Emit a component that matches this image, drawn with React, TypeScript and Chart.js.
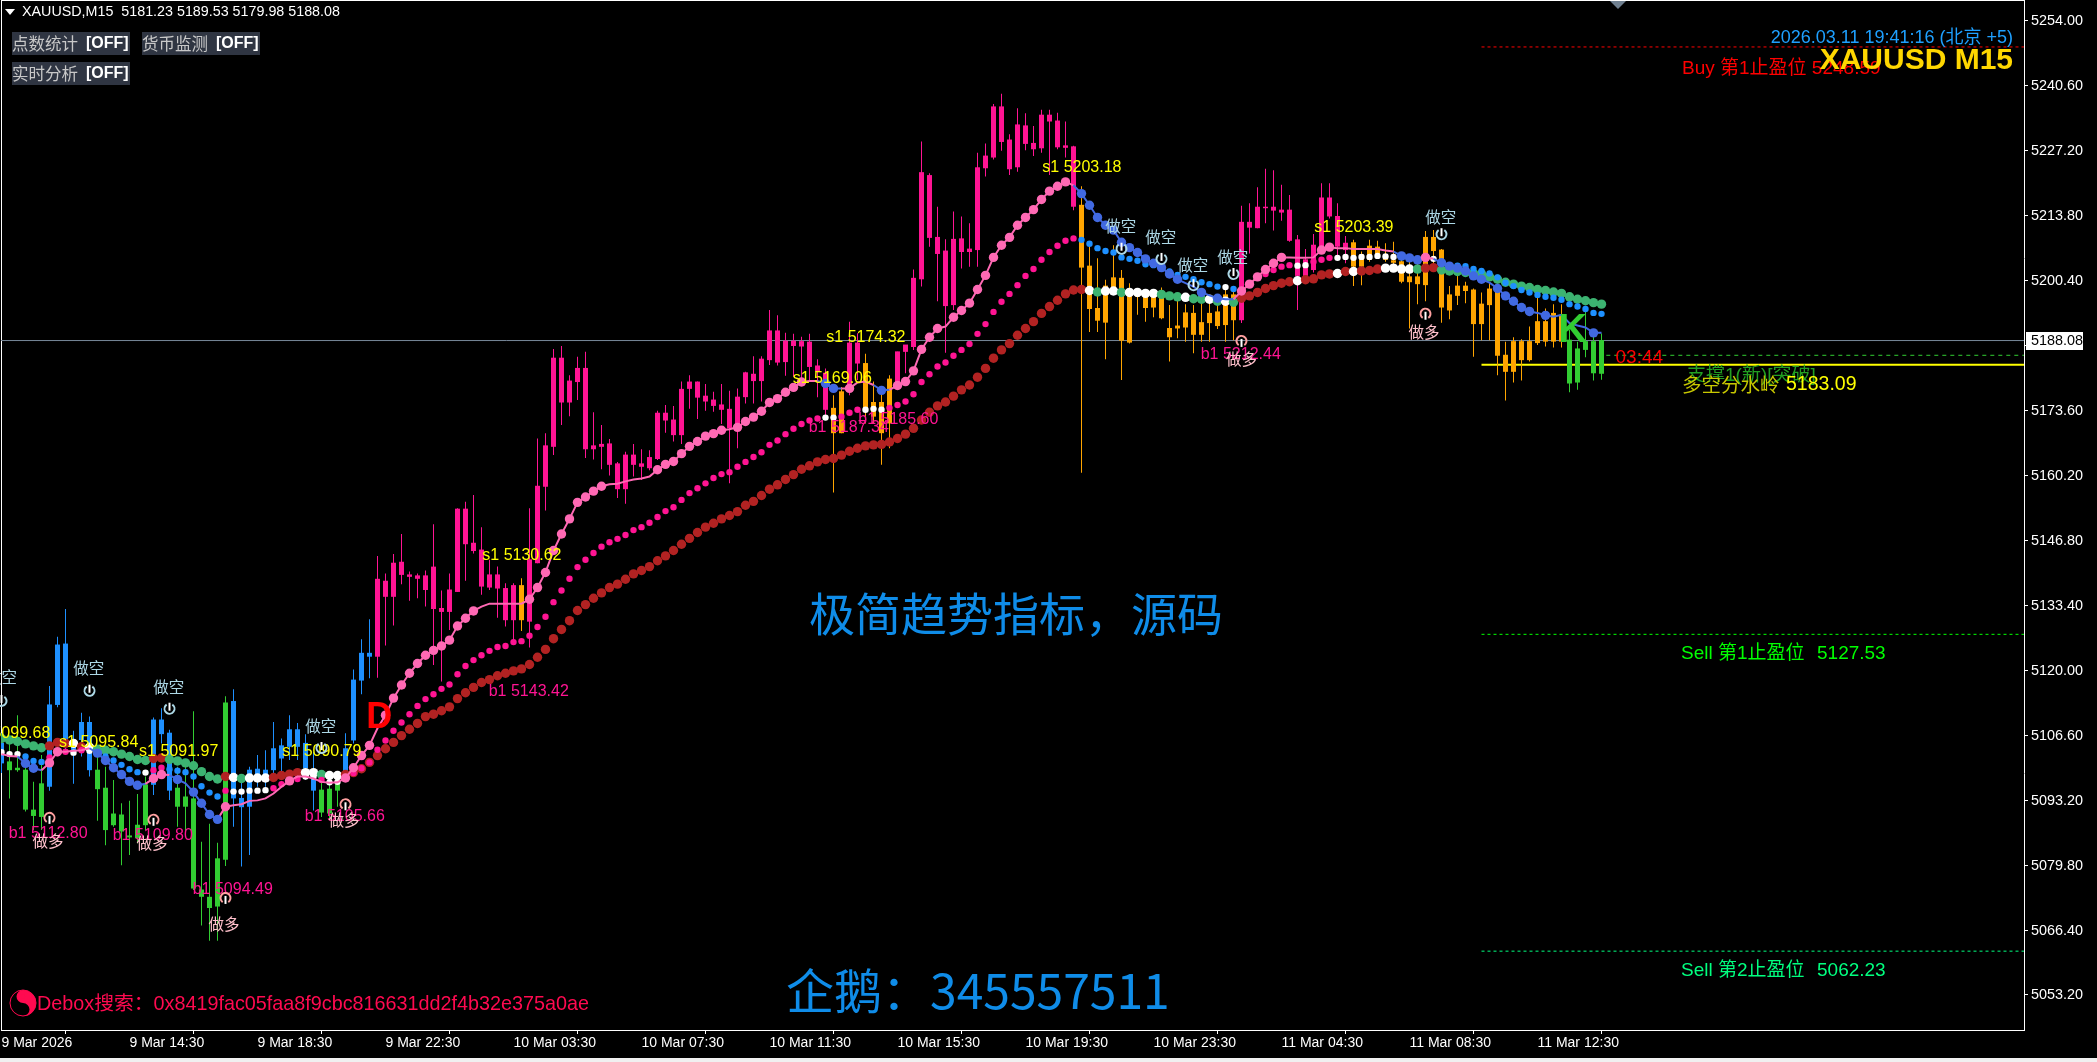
import React, { useEffect, useRef } from "react";
import { Chart, registerables } from "chart.js";

Chart.register(...registerables);

// ---- candles (prices, one row per ten bars)
const bodyHighRead = [
5105.6,5101.8,5100.5,5100.1,5091.9,5097.3,5113.5,5125.8,5126.0,5106.3,
5109.9,5109.9,5100.1,5096.4,5091.1,5090.9,5086.6,5088.8,5097.1,5110.4,
5110.4,5107.7,5096.4,5094.6,5094.2,5075.5,5074.0,5081.9,5113.9,5114.2,
5094.3,5100.1,5100.3,5100.1,5104.5,5105.1,5108.4,5108.4,5105.6,5099.5,
5096.0,5096.2,5098.1,5104.5,5118.6,5124.1,5124.1,5139.3,5138.9,5142.6,
5142.8,5140.2,5140.0,5140.0,5141.8,5133.3,5137.1,5153.7,5153.7,5146.7,
5145.3,5140.2,5140.2,5137.4,5138.0,5138.0,5143.3,5158.4,5166.7,5184.7,
5184.7,5180.0,5182.6,5182.6,5166.7,5167.0,5167.1,5163.0,5164.8,5164.8,
5163.0,5164.3,5173.4,5173.4,5172.0,5178.3,5179.8,5179.8,5176.9,5176.1,
5175.1,5174.2,5176.7,5181.7,5181.4,5184.5,5190.3,5190.3,5188.2,5188.2,
5188.1,5188.0,5183.1,5181.6,5174.4,5177.8,5187.8,5187.8,5183.6,5175.6,
5175.6,5180.4,5186.0,5187.4,5201.1,5222.8,5222.2,5209.5,5206.7,5209.1,
5209.2,5207.1,5223.8,5226.2,5236.3,5236.3,5229.5,5232.6,5232.4,5228.8,
5234.6,5234.6,5233.4,5228.3,5228.1,5216.1,5203.6,5194.9,5199.5,5201.2,
5201.1,5198.2,5198.0,5198.0,5197.3,5198.3,5190.8,5191.3,5194.0,5193.9,
5192.0,5193.9,5194.2,5197.7,5197.7,5212.6,5212.6,5215.7,5215.7,5215.7,
5215.1,5215.1,5209.0,5204.9,5207.9,5217.6,5217.6,5213.8,5208.3,5208.4,
5205.9,5207.7,5207.5,5205.9,5204.7,5204.5,5201.4,5201.4,5209.5,5209.5,
5206.9,5197.7,5199.5,5199.5,5198.7,5195.8,5198.9,5198.7,5185.3,5188.1,
5188.1,5188.1,5192.2,5192.2,5193.9,5193.5,5188.4,5186.6,5188.1,5188.1,
5188.32];
const bodyLowRead = [
5101.5,5100.1,5100.1,5092.0,5090.7,5090.5,5096.7,5113.5,5106.3,5103.6,
5106.3,5100.1,5096.2,5087.8,5088.8,5087.5,5086.3,5086.1,5088.8,5097.1,
5107.5,5095.9,5092.6,5092.6,5075.8,5074.1,5071.8,5072.1,5081.7,5094.3,
5092.5,5092.6,5098.1,5098.1,5100.1,5102.5,5104.9,5104.9,5100.5,5095.9,
5091.4,5091.2,5095.9,5099.8,5106.2,5118.5,5123.4,5123.4,5135.7,5135.7,
5140.2,5139.8,5139.4,5137.1,5133.2,5132.6,5132.6,5136.7,5146.5,5145.1,
5137.8,5137.6,5137.4,5130.9,5130.9,5130.9,5130.6,5142.6,5158.3,5166.5,
5175.6,5175.6,5179.8,5166.0,5166.0,5166.5,5162.8,5157.8,5157.8,5162.8,
5162.4,5162.1,5164.0,5171.9,5168.9,5168.9,5178.4,5176.6,5175.8,5174.9,
5174.1,5170.3,5170.0,5176.7,5180.0,5180.0,5184.3,5183.8,5183.9,5187.2,
5187.1,5182.9,5181.9,5174.1,5169.3,5169.3,5177.8,5183.6,5174.4,5172.7,
5169.3,5171.3,5179.8,5186.0,5187.0,5200.9,5209.4,5206.1,5195.4,5195.6,
5206.5,5206.5,5206.9,5223.7,5225.9,5229.1,5223.5,5223.9,5228.7,5227.6,
5227.8,5233.3,5228.0,5227.9,5215.8,5203.3,5194.8,5192.4,5192.0,5198.3,
5188.3,5187.9,5197.3,5195.0,5195.1,5192.9,5189.0,5190.8,5191.0,5189.5,
5189.5,5191.9,5191.3,5191.5,5192.5,5192.5,5211.5,5211.4,5215.5,5215.0,
5214.6,5208.8,5201.6,5201.6,5202.8,5207.6,5213.8,5207.6,5206.9,5203.5,
5203.5,5204.9,5205.6,5204.9,5204.3,5200.4,5200.3,5199.9,5199.7,5206.7,
5195.1,5194.5,5197.5,5198.5,5191.7,5191.7,5195.6,5185.2,5181.9,5181.9,
5184.3,5184.3,5187.8,5188.1,5188.1,5188.1,5179.5,5179.7,5186.4,5181.6,
5181.50];
const highsRead = [
5107.7,5105.6,5111.4,5102.9,5097.7,5103.2,5117.4,5127.5,5133.2,5108.2,
5111.9,5111.1,5103.9,5100.8,5098.1,5093.3,5093.8,5095.2,5098.8,5110.9,
5112.8,5108.4,5100.8,5101.2,5112.2,5085.4,5089.1,5085.2,5115.3,5116.7,
5098.4,5100.8,5103.2,5104.2,5110.0,5106.6,5111.4,5109.8,5107.5,5103.9,
5098.1,5098.1,5099.5,5107.7,5120.8,5127.0,5131.1,5144.1,5140.5,5144.5,
5148.6,5140.9,5140.5,5141.1,5150.6,5137.0,5140.5,5153.9,5155.2,5156.6,
5150.0,5143.3,5141.9,5138.5,5138.5,5139.5,5153.9,5168.2,5169.3,5186.6,
5187.2,5181.2,5185.0,5186.0,5173.6,5171.0,5168.1,5163.4,5165.5,5167.1,
5166.0,5165.8,5173.9,5175.1,5174.9,5179.9,5181.2,5179.9,5179.4,5177.8,
5179.4,5178.0,5178.5,5181.9,5185.1,5185.1,5194.6,5193.5,5189.9,5189.7,
5189.1,5189.7,5184.5,5182.6,5177.1,5178.8,5192.2,5189.8,5185.6,5179.9,
5177.5,5181.2,5186.0,5187.4,5202.9,5229.2,5222.7,5215.8,5209.1,5214.8,
5213.8,5212.4,5226.9,5228.8,5236.9,5239.0,5230.7,5236.0,5235.0,5232.4,
5235.7,5235.7,5235.1,5233.3,5228.3,5220.0,5207.9,5205.2,5200.8,5207.9,
5202.8,5200.1,5199.0,5198.0,5198.0,5199.2,5195.6,5196.6,5195.8,5195.6,
5196.3,5197.3,5197.3,5199.0,5199.0,5216.0,5216.5,5219.8,5223.6,5223.3,
5220.3,5218.2,5210.0,5207.1,5210.2,5220.6,5220.6,5216.5,5209.8,5209.0,
5206.6,5209.0,5208.8,5208.3,5208.6,5205.6,5204.9,5204.2,5210.8,5211.0,
5207.1,5199.5,5201.8,5200.4,5199.0,5198.2,5200.3,5199.0,5188.1,5189.0,
5188.6,5191.2,5197.3,5194.9,5195.8,5195.8,5190.5,5188.1,5194.3,5189.1,
5189.77];
const lowsRead = [
5099.5,5094.3,5099.8,5091.6,5087.8,5087.8,5095.9,5113.0,5104.2,5097.3,
5102.9,5098.8,5089.7,5084.7,5088.5,5080.6,5082.7,5085.1,5087.8,5095.0,
5105.6,5094.0,5088.5,5086.5,5075.5,5068.2,5065.1,5065.1,5080.4,5088.5,
5080.3,5082.7,5096.7,5096.7,5099.5,5098.8,5102.2,5102.2,5098.1,5091.8,
5090.5,5089.9,5092.6,5098.1,5105.6,5115.7,5119.0,5119.1,5125.7,5129.8,
5138.3,5134.9,5135.4,5133.7,5121.7,5118.3,5128.9,5136.7,5139.0,5144.6,
5136.1,5137.1,5131.4,5129.6,5125.8,5128.7,5125.3,5142.6,5153.4,5164.8,
5171.0,5172.8,5176.1,5164.2,5163.9,5161.9,5160.6,5156.0,5154.8,5160.4,
5159.7,5161.7,5163.8,5169.4,5167.6,5167.1,5174.3,5172.2,5173.9,5173.7,
5171.2,5159.0,5166.2,5175.4,5175.4,5175.8,5183.3,5183.2,5181.1,5180.9,
5180.6,5179.9,5176.7,5172.3,5157.1,5169.3,5177.1,5180.2,5171.3,5171.3,
5162.8,5166.2,5178.8,5181.6,5186.4,5199.4,5207.6,5196.4,5185.8,5194.6,
5203.1,5203.5,5203.5,5222.0,5225.5,5227.3,5222.3,5223.0,5227.4,5226.2,
5226.9,5222.3,5227.6,5225.9,5215.1,5161.2,5190.1,5190.1,5184.5,5198.0,
5180.2,5187.7,5193.6,5192.2,5193.1,5192.7,5184.0,5188.8,5188.1,5185.7,
5188.1,5188.1,5190.7,5188.1,5188.4,5191.9,5206.2,5211.4,5212.4,5210.9,
5212.9,5208.6,5194.6,5201.4,5202.3,5207.5,5213.4,5204.9,5204.2,5199.5,
5199.7,5204.5,5205.2,5204.5,5203.5,5200.1,5190.8,5195.8,5196.4,5204.2,
5192.0,5192.7,5195.6,5196.0,5185.0,5188.4,5188.4,5181.2,5176.0,5179.7,
5180.1,5184.0,5187.4,5187.1,5186.9,5186.9,5177.7,5178.2,5184.9,5180.1,
5180.25];

// ---- three trend indicators
const slowRead = [
5106.6,5106.3,5106.0,5105.5,5105.1,5104.7,5105.1,5105.8,5105.6,5105.6,
5104.9,5104.8,5104.4,5104.2,5103.9,5103.4,5102.9,5102.3,5102.1,5102.5,
5102.6,5102.3,5102.0,5101.6,5101.0,5099.8,5098.8,5098.3,5098.8,5098.6,
5098.4,5098.5,5098.5,5098.5,5098.6,5099.0,5099.3,5099.6,5099.6,5099.6,
5099.2,5099.0,5099.0,5099.2,5099.6,5100.4,5101.7,5103.1,5104.5,5105.8,
5107.2,5108.5,5109.7,5111.1,5111.6,5112.3,5113.1,5114.8,5116.0,5117.1,
5118.1,5118.7,5119.5,5120.0,5120.5,5120.9,5121.8,5123.3,5124.9,5127.1,
5129.0,5130.8,5132.9,5134.1,5135.4,5136.5,5137.6,5138.3,5139.3,5140.4,
5141.1,5141.9,5143.1,5144.1,5145.2,5146.5,5147.7,5148.9,5150.0,5150.8,
5151.7,5152.4,5153.2,5154.5,5155.3,5156.5,5157.8,5158.7,5159.8,5160.8,
5161.9,5162.6,5163.4,5163.9,5164.1,5164.8,5165.6,5166.2,5166.7,5166.9,
5167.0,5167.5,5168.2,5169.1,5170.3,5172.0,5173.6,5174.9,5175.7,5176.9,
5178.2,5179.2,5180.8,5182.6,5184.7,5186.4,5187.7,5189.4,5190.8,5192.2,
5193.9,5195.3,5196.6,5197.9,5198.7,5198.8,5198.6,5198.3,5198.5,5198.5,
5198.2,5198.2,5198.2,5198.0,5198.0,5197.8,5197.5,5197.3,5197.2,5196.9,
5196.8,5196.8,5196.4,5196.4,5196.2,5197.0,5197.5,5198.2,5199.0,5199.6,
5200.1,5200.4,5200.6,5200.8,5201.0,5201.8,5202.0,5202.1,5202.5,5202.5,
5202.6,5202.7,5203.0,5203.2,5203.2,5203.0,5203.0,5203.0,5203.2,5203.3,
5202.8,5202.6,5202.5,5202.3,5202.1,5202.0,5201.4,5200.9,5200.3,5199.9,
5199.5,5199.2,5198.8,5198.6,5198.3,5198.0,5197.3,5196.8,5196.5,5196.1,
5195.8];
const mediumRead = [
5103.8,5103.4,5103.4,5102.9,5102.0,5101.8,5102.7,5103.6,5103.9,5103.7,
5104.2,5104.1,5103.6,5102.9,5102.1,5101.2,5100.3,5099.7,5099.6,5100.1,
5100.6,5100.3,5100.0,5099.7,5098.8,5096.8,5095.5,5094.7,5095.9,5095.7,
5095.7,5095.9,5095.9,5096.0,5096.4,5097.2,5097.7,5098.3,5098.8,5098.8,
5098.1,5097.6,5097.7,5098.4,5099.5,5100.5,5101.7,5104.3,5106.2,5108.2,
5109.9,5111.6,5113.3,5114.7,5115.7,5116.8,5117.7,5119.8,5121.5,5122.7,
5123.7,5124.6,5125.4,5125.6,5126.4,5126.6,5127.7,5129.5,5131.6,5134.6,
5137.0,5139.4,5141.8,5143.3,5144.7,5146.0,5146.9,5147.6,5148.4,5149.4,
5150.0,5150.9,5152.1,5153.3,5154.1,5155.6,5157.0,5158.0,5159.0,5160.1,
5160.9,5161.3,5162.4,5163.4,5164.4,5165.4,5166.9,5167.8,5169.1,5170.2,
5171.2,5171.9,5172.3,5172.5,5172.5,5172.7,5173.5,5174.1,5174.1,5174.3,
5174.1,5174.5,5175.1,5175.8,5177.3,5179.8,5181.4,5183.0,5183.8,5185.2,
5186.4,5187.6,5189.7,5191.7,5194.2,5196.3,5197.9,5199.7,5201.6,5203.0,
5204.9,5206.5,5207.8,5208.8,5209.3,5209.0,5208.2,5207.3,5206.7,5206.4,
5205.4,5205.1,5204.7,5204.0,5203.8,5203.1,5202.5,5201.8,5201.4,5200.9,
5200.3,5199.9,5199.4,5199.3,5198.9,5198.5,5200.0,5201.2,5202.0,5202.8,
5203.5,5203.8,5203.7,5203.8,5204.5,5204.9,5205.3,5205.3,5205.5,5205.3,
5205.5,5205.5,5205.7,5205.6,5205.5,5205.4,5205.2,5205.0,5205.1,5205.1,
5204.2,5203.8,5203.7,5203.6,5203.0,5202.6,5202.1,5201.3,5200.2,5199.5,
5198.7,5198.2,5197.7,5197.3,5197.1,5196.7,5195.8,5195.3,5194.8,5194.0,
5193.8];
const fastRead = [
5103.4,5103.0,5102.9,5101.5,5100.5,5100.1,5101.6,5103.9,5103.9,5104.1,
5104.2,5104.6,5103.6,5102.1,5100.6,5099.2,5097.8,5097.0,5097.3,5098.4,
5099.2,5099.1,5098.2,5097.4,5095.6,5093.3,5091.0,5090.0,5092.6,5092.9,
5093.1,5093.8,5093.9,5094.3,5095.3,5096.7,5097.9,5098.8,5098.8,5098.4,
5097.7,5097.5,5097.6,5098.5,5100.6,5103.1,5105.2,5108.7,5111.4,5114.9,
5117.6,5120.0,5122.0,5123.7,5124.7,5125.6,5126.8,5129.7,5131.3,5132.8,
5133.7,5134.3,5134.3,5134.3,5134.3,5134.3,5135.2,5137.6,5140.7,5145.2,
5148.6,5151.7,5155.1,5156.2,5157.4,5158.4,5158.8,5158.9,5159.4,5159.8,
5160.0,5160.4,5161.8,5162.9,5163.5,5165.1,5166.6,5167.6,5168.7,5169.2,
5169.9,5170.1,5170.5,5171.7,5172.6,5173.8,5175.6,5176.4,5177.7,5178.7,
5179.8,5180.0,5180.0,5179.5,5178.5,5178.5,5178.5,5179.7,5179.9,5179.2,
5178.1,5178.2,5179.1,5179.9,5182.1,5186.5,5189.0,5190.8,5191.2,5193.1,
5194.5,5196.0,5198.8,5201.7,5205.4,5207.9,5209.5,5212.0,5213.6,5215.2,
5217.3,5219.0,5220.0,5220.9,5220.2,5218.5,5216.1,5213.6,5212.0,5211.0,
5208.5,5207.4,5206.4,5205.1,5204.2,5203.3,5202.0,5200.9,5200.1,5199.4,
5198.2,5197.6,5197.0,5196.8,5196.8,5198.5,5199.9,5201.4,5202.9,5204.2,
5205.4,5205.4,5205.3,5205.3,5205.4,5206.9,5207.5,5207.3,5207.3,5207.1,
5207.1,5207.1,5207.1,5206.8,5206.6,5205.7,5205.3,5204.9,5205.4,5205.1,
5204.3,5203.6,5203.2,5202.6,5201.6,5200.9,5200.2,5199.0,5197.5,5196.4,
5195.1,5194.3,5194.0,5193.5,5193.2,5193.6,5191.9,5191.4,5191.0,5189.9,
5189.9];

// ---- states along the bars, as runs of [state, bars]
const candleStates: [string, number][] = [["B",1],["G",5],["B",6],["G",7],["B",3],["G",7],["B",11],["G",3],["B",4],["P",18],["O",1],["P",38],["O",2],["P",2],["O",4],["P",23],["O",20],["P",14],["O",27],["G",5]];
const slowStates: [string, number][] = [["G",6],["R",3],["W",1],["R",1],["W",1],["G",7],["R",2],["G",7],["R",1],["W",1],["G",1],["W",3],["R",4],["W",2],["G",1],["W",2],["R",93],["W",1],["G",1],["W",2],["G",1],["W",4],["G",3],["W",1],["G",2],["W",1],["G",1],["W",1],["G",1],["R",7],["W",1],["R",4],["W",1],["R",1],["W",1],["R",3],["W",4],["G",1],["R",2],["G",21]];
const mediumStates: [string, number][] = [["W",3],["B",3],["P",3],["W",1],["P",1],["W",1],["B",6],["W",1],["P",2],["B",7],["P",1],["W",5],["P",4],["W",2],["P",1],["W",2],["P",60],["W",2],["P",3],["W",3],["P",24],["B",18],["W",1],["B",1],["P",7],["W",2],["P",3],["W",8],["B",3],["P",1],["W",1],["B",21]];
const fastStates: [string, number][] = [["P",3],["B",3],["P",6],["B",7],["P",3],["B",6],["P",75],["B",3],["P",4],["B",2],["P",23],["B",20],["P",20],["B",3],["P",2],["B",21]];
const fastMarked: [number, number][] = [[0,3],[1,2],[0,1],[1,2],[0,4],[1,6],[0,1],[1,2],[0,1],[1,1],[0,1],[1,5],[0,7],[1,1],[0,6],[1,4],[0,1],[1,12],[0,6],[1,10],[0,6],[1,9],[0,1],[1,9],[0,2],[1,2],[0,1],[1,1],[0,3],[1,1],[0,1],[1,6],[0,1],[1,15],[0,1],[1,13],[0,2],[1,1],[0,1],[1,1],[0,2],[1,6],[0,4],[1,2],[0,8],[1,4],[0,1],[1,6],[0,1],[1,5],[0,1],[1,1],[0,5],[1,1],[0,1]];

// ---- axes
const priceTicks = [5254.0,5240.6,5227.2,5213.8,5200.4,5187.0,5173.6,5160.2,5146.8,5133.4,5120.0,5106.6,5093.2,5079.8,5066.4,5053.2];
const timeTickBars = [0,16,32,48,64,80,96,112,128,144,160,176,192];
const timeTickLabels = ["9 Mar 2026","9 Mar 14:30","9 Mar 18:30","9 Mar 22:30","10 Mar 03:30","10 Mar 07:30","10 Mar 11:30","10 Mar 15:30","10 Mar 19:30","10 Mar 23:30","11 Mar 04:30","11 Mar 08:30","11 Mar 12:30"];

// ---- levels
const lastPrice = 5188.08;
const buyTarget1 = 5248.59;
const sellTarget1 = 5127.53;
const sellTarget2 = 5062.23;
const watershed = 5183.09;
const support1 = 5185.04;

// ---- signals: [bar, price, text]
const shortEntryLabels: [number, number, string][] = [[-3.8,5106.99,"s1 5099.68"],[7.2,5105.13,"s1 5095.84"],[17.2,5103.28,"s1 5091.97"],[35.1,5103.28,"s1 5090.79"],[60.1,5143.67,"s1 5130.62"],[103.1,5188.6,"s1 5174.32"],[98.9,5180.15,"s1 5169.06"],[130.1,5223.64,"s1 5203.18"],[164.1,5211.27,"s1 5203.39"]];
const longEntryLabels: [number, number, string][] = [[0.9,5086.38,"b1 5112.80"],[13.9,5085.97,"b1 5109.80"],[23.9,5074.84,"b1 5094.49"],[37.9,5089.9,"b1 5105.66"],[60.9,5115.64,"b1 5143.42"],[100.9,5170.05,"b1 5187.34"],[107.1,5171.7,"b1 5185.60"],[149.9,5185.1,"b1 5212.44"]];
const shortWords: [number, number][] = [[0,5118.75],[10.9,5120.6],[20.9,5116.7],[39.9,5108.6],[139.9,5211.7],[144.9,5209.4],[148.9,5203.7],[153.9,5205.3],[179.9,5213.5]];
const longWords: [number, number][] = [[5.8,5084.9],[18.8,5084.5],[27.8,5067.8],[42.8,5089.2],[155,5184.3],[177.8,5189.9]];
const shortArrows: [number, number][] = [[0,5113.8],[11,5115.9],[21,5112.2],[40,5104.1],[140,5207],[145,5204.9],[149,5199.5],[154,5201.8],[180,5210]];
const longArrows: [number, number][] = [[6,5089.7],[19,5089.3],[28,5073.2],[43,5092.5],[155,5188],[178,5193.6]];

// ---- texts
const headerText = "XAUUSD,M15  5181.23 5189.53 5179.98 5188.08";
const clockText = "2026.03.11 19:41:16 (北京 +5)";
const symbolText = "XAUUSD M15";
const watermarkText = "极简趋势指标\uFF0C源码";
const contactText = "企鹅\uFF1A345557511";
const deboxText = "Debox搜索\uFF1A0x8419fac05faa8f9cbc816631dd2f4b32e375a0ae";
const countdownText = "03:44";

// The readings were taken with a ruler of 4.87 px per dollar; the axis runs at 4.852.
const toPrice = (v: number) => 5254 - (5254 - v) * 1.00371;
const expand = <T,>(runs: [T, number][]): T[] => runs.flatMap(([s, n]) => Array(n).fill(s));

const bars = bodyHighRead.map((_, i) => i);
const FONT = '"Liberation Sans","Noto Sans CJK SC",sans-serif';
const CJK = '"Noto Sans CJK SC","Liberation Sans",sans-serif';
const candleColor: Record<string, string> = { B: "#1E90FF", G: "#32CD32", P: "#FF1493", O: "#FFA500" };
const slowColor: Record<string, string> = { G: "#3CB371", R: "#B22222", W: "#FFFFFF" };
const mediumColor: Record<string, string> = { P: "#FF1493", B: "#1E90FF", W: "#FFFFFF" };
const fastColor: Record<string, string> = { P: "#FF69B4", B: "#4169E1" };

function label(ctx: CanvasRenderingContext2D, text: string, x: number, y: number, color: string, font: string, align: CanvasTextAlign = "left", baseline: CanvasTextBaseline = "middle") {
  ctx.font = font;
  ctx.fillStyle = color;
  ctx.textAlign = align;
  ctx.textBaseline = baseline;
  ctx.fillText(text, x, y);
}

function arrowGlyph(ctx: CanvasRenderingContext2D, x: number, y: number, down: boolean) {
  const ring = down ? "#ADD8E6" : "#FFA0A0";
  ctx.lineWidth = 2;
  ctx.strokeStyle = ring;
  ctx.beginPath();
  if (down) ctx.arc(x, y, 5, -Math.PI / 2 + 0.6, -Math.PI / 2 - 0.6);
  else ctx.arc(x, y, 5, Math.PI / 2 + 0.6, Math.PI / 2 - 0.6);
  ctx.stroke();
  ctx.strokeStyle = "#FFFFFF";
  ctx.beginPath();
  ctx.moveTo(x, down ? y - 6 : y + 6);
  ctx.lineTo(x, down ? y + 2 : y - 2);
  ctx.stroke();
}

function taijiGlyph(ctx: CanvasRenderingContext2D, x: number, y: number, r: number, color: string) {
  ctx.fillStyle = "#000";
  ctx.strokeStyle = color;
  ctx.lineWidth = 1;
  ctx.beginPath();
  ctx.arc(x, y, r, 0, Math.PI * 2);
  ctx.fill();
  ctx.stroke();
  ctx.fillStyle = color;
  ctx.beginPath();
  ctx.arc(x, y, r, Math.PI / 2, -Math.PI / 2, true);
  ctx.arc(x, y - r / 2, r / 2, -Math.PI / 2, Math.PI / 2, true);
  ctx.arc(x, y + r / 2, r / 2, -Math.PI / 2, Math.PI / 2, false);
  ctx.fill();
  ctx.beginPath();
  ctx.arc(x, y - r / 2, r / 6, 0, Math.PI * 2);
  ctx.fill();
  ctx.fillStyle = "#000";
  ctx.beginPath();
  ctx.arc(x, y + r / 2, r / 6, 0, Math.PI * 2);
  ctx.fill();
}

const terminalPlugin = {
  id: "terminal",
  beforeDraw(chart: any) {
    const { ctx, width, height } = chart;
    ctx.save();
    ctx.fillStyle = "#000";
    ctx.fillRect(0, 0, width, height);
    ctx.fillStyle = "#F0F0F0";
    ctx.fillRect(0, 1058, width, 4);
    ctx.fillStyle = "#FFF";
    ctx.fillRect(1, 0, 1, 1031);
    ctx.fillRect(1, 0, 2024, 1);
    ctx.restore();
  },
  afterDatasetsDraw(chart: any) {
    const { ctx } = chart;
    const X = (i: number) => chart.scales.x.getPixelForValue(i);
    const Y = (p: number) => chart.scales.y.getPixelForValue(p);
    ctx.save();

    // header and buttons
    ctx.fillStyle = "#FFF";
    ctx.beginPath();
    ctx.moveTo(5, 9); ctx.lineTo(15, 9); ctx.lineTo(10, 15); ctx.closePath();
    ctx.fill();
    label(ctx, headerText, 22, 12, "#FFF", `14.3px ${FONT}`);
    const buttons: [number, number, string][] = [[12, 32, "点数统计"], [142, 32, "货币监测"], [12, 62, "实时分析"]];
    for (const [bx, by, word] of buttons) {
      ctx.fillStyle = "#2F3542";
      ctx.fillRect(bx, by, 118, 23);
      label(ctx, word, bx, by + 12, "#C8C8C8", `16.5px ${CJK}`);
      label(ctx, "[OFF]", bx + 74, by + 12, "#FFF", `bold 16px ${FONT}`);
    }

    // big texts
    label(ctx, watermarkText, 809, 614, "#0F8CE8", `46px ${CJK}`);
    label(ctx, contactText, 786, 991, "#0F8CE8", `48px ${CJK}`);
    taijiGlyph(ctx, 23, 1003, 13, "#FF0A50");
    label(ctx, deboxText, 37, 1005, "#FF0A50", `19.8px ${FONT}`);

    // level labels
    label(ctx, "Buy 第1止盈位 5248.59", 1682, 69, "#FF0000", `19px ${FONT}`);
    label(ctx, "Sell 第1止盈位", 1681, 654, "#00FF00", `19px ${FONT}`);
    label(ctx, "5127.53", 1817, 654, "#00FF00", `19px ${FONT}`);
    label(ctx, "Sell 第2止盈位", 1681, 971, "#00FF7F", `19px ${FONT}`);
    label(ctx, "5062.23", 1817, 971, "#00FF7F", `19px ${FONT}`);
    label(ctx, "支撑1(新)[突破]", 1687, 376, "#22A022", `19px ${FONT}`);
    label(ctx, "多空分水岭", 1682, 385, "#C8C800", `19.5px ${CJK}`);
    label(ctx, "5183.09", 1786, 385, "#FFFF00", `19.5px ${FONT}`);
    label(ctx, countdownText, X(200) + 14, Y(5185.04) + 2, "#FF0000", `19px ${FONT}`);
    label(ctx, clockText, 2013, 38, "#1EA0FF", `18px ${FONT}`, "right");
    label(ctx, symbolText, 2013, 61, "#FFD700", `bold 30px ${FONT}`, "right");

    // signals
    for (const [i, p, t] of shortEntryLabels) label(ctx, t, X(i), Y(p), "#FFFF00", `16px ${FONT}`);
    for (const [i, p, t] of longEntryLabels) label(ctx, t, X(i), Y(p), "#FF1493", `16px ${FONT}`);
    for (const [i, p] of shortArrows) arrowGlyph(ctx, X(i), Y(p), true);
    for (const [i, p] of longArrows) arrowGlyph(ctx, X(i), Y(p), false);
    for (const [i, p] of shortWords) label(ctx, "做空", X(i), Y(p), "#ADD8E6", `15.5px ${CJK}`, "center");
    for (const [i, p] of longWords) label(ctx, "做多", X(i), Y(p), "#FFC0CB", `15.5px ${CJK}`, "center");

    // trend letters
    label(ctx, "D", X(45.6), Y(5108.2), "#FF0000", `bold 36px ${FONT}`, "left", "alphabetic");
    label(ctx, "K", X(194.6), Y(5187.8), "#32CD32", `bold 40px ${FONT}`, "left", "alphabetic");

    // window marker
    ctx.fillStyle = "#708090";
    ctx.beginPath();
    ctx.moveTo(1610, 1); ctx.lineTo(1626, 1); ctx.lineTo(1618, 9); ctx.closePath();
    ctx.fill();
    ctx.restore();
  },
  afterDraw(chart: any) {
    const { ctx } = chart;
    const y = chart.scales.y.getPixelForValue(lastPrice);
    ctx.save();
    ctx.fillStyle = "#FFF";
    ctx.fillRect(2026, Math.round(y) - 9, 57, 18);
    label(ctx, lastPrice.toFixed(2), 2031, y, "#000", `14.4px ${FONT}`);
    ctx.restore();
  },
};

export default function App() {
  const ref = useRef<HTMLCanvasElement>(null);
  useEffect(() => {
    document.body.style.margin = "0";
    document.body.style.background = "#000";
    const candles = expand(candleStates);
    const slowS = expand(slowStates);
    const mediumS = expand(mediumStates);
    const fastS = expand(fastStates);
    const marked = expand(fastMarked);
    const wickColors = candles.map((s) => candleColor[s]);
    const series = (values: number[]) => bars.map((i) => ({ x: i, y: toPrice(values[i]) }));
    const level = (from: number, p: number) => [{ x: from, y: p }, { x: 252.8125, y: p }];
    const chart = new Chart(ref.current!, {
      type: "bar",
      plugins: [terminalPlugin],
      data: {
        datasets: [
          { type: "line", order: 1, data: series(fastRead), borderWidth: 2, borderColor: "#FF69B4", tension: 0,
            segment: { borderColor: (c: any) => fastColor[fastS[c.p1DataIndex]] },
            pointRadius: marked.map((m) => (m ? 4.7 : 0)), pointBorderWidth: 0,
            pointBackgroundColor: fastS.map((s) => fastColor[s]) },
          { type: "line", order: 2, data: series(mediumRead), showLine: false, pointRadius: 3.2, pointBorderWidth: 0,
            pointBackgroundColor: mediumS.map((s) => mediumColor[s]) },
          { type: "line", order: 3, data: series(slowRead), showLine: false, pointRadius: 4.7, pointBorderWidth: 0,
            pointBackgroundColor: slowS.map((s) => slowColor[s]) },
          { type: "bar", order: 4, grouped: false, barThickness: 5, inflateAmount: 0, borderWidth: 0,
            data: bars.map((i) => ({ x: i, y: [toPrice(bodyLowRead[i]), toPrice(bodyHighRead[i]) + 0.1] })), backgroundColor: wickColors },
          { type: "bar", order: 5, grouped: false, barThickness: 1, inflateAmount: 0, borderWidth: 0,
            data: bars.map((i) => ({ x: i, y: [toPrice(lowsRead[i]), toPrice(highsRead[i])] })), backgroundColor: wickColors },
          { type: "line", order: 6, data: level(185, watershed), borderColor: "#FFFF00", borderWidth: 2, pointRadius: 0 },
          { type: "line", order: 7, data: level(185, buyTarget1), borderColor: "#FF0000", borderWidth: 1, borderDash: [3, 3], pointRadius: 0 },
          { type: "line", order: 7, data: level(185, sellTarget1), borderColor: "#00FF00", borderWidth: 1, borderDash: [3, 3], pointRadius: 0 },
          { type: "line", order: 7, data: level(185, sellTarget2), borderColor: "#00FF7F", borderWidth: 1, borderDash: [3, 3], pointRadius: 0 },
          { type: "line", order: 7, data: level(200.6, support1), borderColor: "#32CD32", borderWidth: 1, borderDash: [4, 4], pointRadius: 0 },
          { type: "line", order: 8, data: level(-0.0625, lastPrice), borderColor: "#778899", borderWidth: 1, pointRadius: 0 },
        ] as any,
      },
      options: {
        animation: false,
        responsive: false,
        events: [],
        layout: { autoPadding: false, padding: { left: 1, top: 1, right: 0, bottom: 0 } },
        plugins: { legend: { display: false }, tooltip: { enabled: false }, title: { display: false } },
        scales: {
          x: {
            type: "linear",
            min: -0.0625,
            max: 252.8125,
            offset: false,
            afterBuildTicks: (s: any) => { s.ticks = timeTickBars.map((v) => ({ value: v })); },
            afterFit: (s: any) => { s.height = 32; s.paddingLeft = 0; s.paddingRight = 0; },
            grid: { drawOnChartArea: false, tickLength: 4, tickColor: "#FFF" },
            border: { color: "#FFF", width: 1 },
            ticks: {
              color: "#FFF", autoSkip: false, maxRotation: 0, align: "start", padding: 1,
              font: { family: FONT, size: 14 },
              callback: (v: any) => timeTickLabels[timeTickBars.indexOf(Number(v))] ?? "",
            },
          },
          y: {
            type: "linear",
            position: "right",
            min: 5045.98,
            max: 5258.06,
            afterBuildTicks: (s: any) => { s.ticks = priceTicks.map((v) => ({ value: v })); },
            afterFit: (s: any) => { s.width = 73; s.paddingTop = 0; s.paddingBottom = 0; },
            grid: { drawOnChartArea: false, tickLength: 4, tickColor: "#FFF" },
            border: { color: "#FFF", width: 1 },
            ticks: {
              color: "#FFF", autoSkip: false, padding: 3,
              font: { family: FONT, size: 14.4 },
              callback: (v: any) => Number(v).toFixed(2),
            },
          },
        },
      } as any,
    });
    return () => chart.destroy();
  }, []);
  return <canvas ref={ref} width={2097} height={1062} style={{ display: "block", width: 2097, height: 1062 }} />;
}
